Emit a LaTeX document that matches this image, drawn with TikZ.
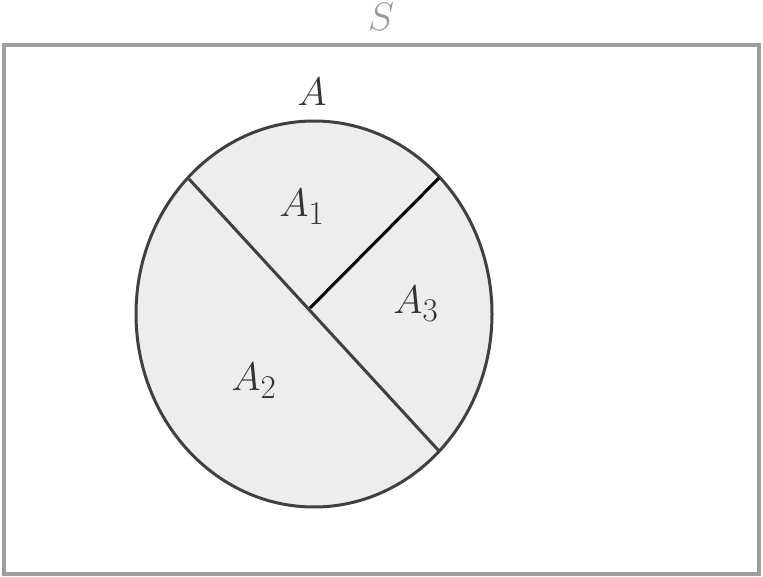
\documentclass[tikz,border=0pt]{standalone}
\usepackage{graphicx}
\usetikzlibrary{shapes.geometric}
\newcommand{\biglbl}[1]{\scalebox{1.6}{\fontsize{24.88}{30}\selectfont$#1$}}
\begin{document}
\begin{tikzpicture}[x=1pt,y=-1pt,
  lbl/.style={inner sep=0pt},
  edge/.style={draw=black!75, line width=3pt}]
\useasboundingbox (0,0) rectangle (763,577);
\node[draw=black!38, line width=4.5pt, minimum width=755pt, minimum height=529pt, inner sep=0pt] (S) at (381.5,309.5) {};
\node[lbl, text=black!40] (Slbl) at (381,17) {\biglbl{S}};
\node[ellipse, draw=black!75, fill=black!7, line width=3pt, minimum width=356pt, minimum height=386pt, inner sep=0pt] (A) at (314,314) {};
\coordinate (P1) at (189,179);
\coordinate (P2) at (439,451);
\coordinate (C) at (310,308);
\coordinate (P3) at (439,178);
\draw[edge] (P1) -- (P2);
\draw[draw=black, line width=3pt] (C) -- (P3);
\node[lbl, text=black!80] (Albl) at (312,92) {\biglbl{A}};
\node[lbl, text=black!80] (A1) at (302,207) {\biglbl{A_1}};
\node[lbl, text=black!80] (A3) at (416,304) {\biglbl{A_3}};
\node[lbl, text=black!80] (A2) at (254,381) {\biglbl{A_2}};
\end{tikzpicture}
\end{document}
